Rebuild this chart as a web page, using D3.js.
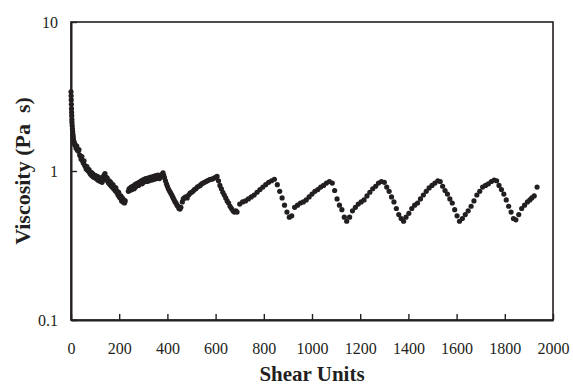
<!DOCTYPE html>
<html>
<head>
<meta charset="utf-8">
<script src="https://cdn.jsdelivr.net/npm/d3@7/dist/d3.min.js"></script>
<style>
  html, body { margin: 0; padding: 0; background: #fff; }
  svg { display: block; }
  text { font-family: "Liberation Serif", "Times New Roman", serif; fill: #231f20; }
</style>
</head>
<body>
<svg id="chart" width="573" height="386"></svg>
<script>
// ---- data ----
const xTickValues = [0, 200, 400, 600, 800, 1000, 1200, 1400, 1600, 1800, 2000];
const yTickValues = [0.1, 1, 10];
const yTickLabels = ["0.1", "1", "10"];
const xTitle = "Shear Units";
const yTitle = "Viscosity (Pa  s)";

const shear = [
  0, 0.5, 1, 1.5, 2, 2.5, 3, 3.5, 4, 5, 6, 7, 8, 9, 10, 12, 14, 16,
  18, 21, 24, 27, 30, 33, 36, 39, 42, 45, 48, 51, 54, 57, 60, 63, 66, 69, 72, 75, 78, 81, 84, 87, 90, 93, 96, 99,
  102, 105, 108, 111, 114, 117, 120, 123, 126, 129, 132, 135, 138, 141, 144, 147, 150, 153, 156, 159, 162, 165,
  168, 171, 174, 177, 180, 183, 186, 189, 192, 195, 198, 201, 204, 207, 210, 213, 216, 219, 222, 225,
  238, 241, 244, 247, 250, 253, 256, 259, 262, 265, 268, 271, 274, 277, 280, 283, 286, 289, 292, 295, 298,
  301, 304, 307, 310, 313, 316, 319, 322, 325, 328, 331, 334, 337, 340, 343, 346, 349, 352, 355, 358, 361,
  364, 367, 370, 373, 376, 379, 382, 385,
  388, 392, 396, 400, 404, 408, 412, 416, 420, 424, 428, 432, 436, 440, 444, 448, 452, 456,
  462, 466, 470, 476, 482, 488, 494, 500, 506, 512, 518, 524, 530, 536, 542, 548, 554, 560, 566, 572, 578,
  584, 590, 596, 602, 606,
  612, 618, 624, 630, 636, 642, 648, 654, 660, 666, 672, 678, 684, 689,
  700, 712, 724, 736, 748, 760, 772, 784, 796, 808, 820, 832, 844,
  856, 866, 876, 886, 896, 906, 916,
  928, 940, 952, 964, 976, 988, 1000, 1012, 1024, 1036, 1048, 1060, 1072, 1084,
  1094, 1104, 1114, 1124, 1134, 1144,
  1156, 1168, 1180, 1192, 1204, 1216, 1228, 1240, 1252, 1264, 1276, 1288, 1300,
  1310, 1320, 1330, 1340, 1350, 1360, 1370, 1380,
  1390, 1402, 1414, 1426, 1438, 1450, 1462, 1474, 1486, 1498, 1510, 1522, 1532,
  1542, 1552, 1562, 1572, 1582, 1592, 1602, 1612,
  1624, 1636, 1648, 1660, 1672, 1684, 1696, 1708, 1720, 1732, 1744, 1756, 1766,
  1776, 1786, 1796, 1806, 1816, 1826, 1836, 1846,
  1858, 1870, 1882, 1894, 1904, 1912, 1922, 1934
];

const viscosity = [
  3.40, 3.20, 3.00, 2.80, 2.62, 2.48, 2.35, 2.22, 2.12, 2.02, 1.92, 1.84, 1.76, 1.70, 1.64, 1.58, 1.54, 1.50,
  1.49, 1.42, 1.47, 1.38, 1.36, 1.39, 1.28, 1.26, 1.20, 1.25, 1.17, 1.13, 1.17, 1.09, 1.07, 1.03, 1.07, 1.01, 1.00, 1.02, 0.97, 0.95, 0.98, 0.93, 0.96, 0.91, 0.94, 0.90,
  0.93, 0.89, 0.92, 0.87, 0.91, 0.86, 0.90, 0.85, 0.89, 0.84, 0.88, 0.92, 0.94, 0.96, 0.91, 0.87, 0.90, 0.85, 0.83, 0.86, 0.81, 0.84,
  0.79, 0.78, 0.81, 0.76, 0.78, 0.74, 0.77, 0.72, 0.73, 0.69, 0.72, 0.67, 0.66, 0.68, 0.63, 0.66, 0.62, 0.64, 0.61, 0.63,
  0.73, 0.76, 0.74, 0.77, 0.78, 0.75, 0.79, 0.79, 0.76, 0.81, 0.78, 0.82, 0.80, 0.83, 0.80, 0.84, 0.82, 0.85, 0.86, 0.82, 0.87,
  0.84, 0.88, 0.85, 0.89, 0.87, 0.85, 0.89, 0.90, 0.86, 0.89, 0.91, 0.88, 0.87, 0.91, 0.92, 0.88, 0.90, 0.93, 0.89, 0.91, 0.94,
  0.92, 0.89, 0.92, 0.94, 0.93, 0.95, 0.97, 0.93,
  0.90, 0.86, 0.82, 0.79, 0.76, 0.74, 0.72, 0.70, 0.68, 0.66, 0.64, 0.62, 0.61, 0.59, 0.58, 0.56, 0.555, 0.57,
  0.62, 0.65, 0.66, 0.67, 0.66, 0.69, 0.71, 0.72, 0.73, 0.75, 0.76, 0.78, 0.79, 0.80, 0.82, 0.83, 0.84, 0.85, 0.86, 0.87, 0.88,
  0.88, 0.89, 0.90, 0.91, 0.92,
  0.86, 0.80, 0.76, 0.72, 0.69, 0.66, 0.63, 0.61, 0.58, 0.56, 0.54, 0.53, 0.54, 0.53,
  0.60, 0.62, 0.63, 0.65, 0.67, 0.69, 0.72, 0.75, 0.78, 0.81, 0.84, 0.86, 0.88,
  0.81, 0.73, 0.66, 0.59, 0.53, 0.49, 0.50,
  0.57, 0.59, 0.61, 0.62, 0.64, 0.67, 0.70, 0.73, 0.75, 0.78, 0.80, 0.83, 0.85, 0.83,
  0.74, 0.65, 0.59, 0.55, 0.49, 0.46,
  0.49, 0.54, 0.57, 0.60, 0.62, 0.64, 0.68, 0.72, 0.76, 0.79, 0.83, 0.85, 0.84,
  0.78, 0.73, 0.67, 0.62, 0.56, 0.51, 0.48, 0.46,
  0.49, 0.52, 0.56, 0.59, 0.61, 0.65, 0.69, 0.73, 0.77, 0.80, 0.83, 0.86, 0.85,
  0.79, 0.74, 0.70, 0.65, 0.61, 0.55, 0.50, 0.46,
  0.48, 0.51, 0.54, 0.58, 0.63, 0.69, 0.73, 0.78, 0.80, 0.82, 0.85, 0.87, 0.86,
  0.80, 0.75, 0.70, 0.64, 0.58, 0.53, 0.48, 0.47,
  0.51, 0.56, 0.59, 0.62, 0.64, 0.66, 0.68, 0.78
];

// ---- layout ----
const margin = { left: 71, right: 20, top: 22, bottom: 66 };
const W = 573, H = 386;
const pw = W - margin.left - margin.right;   // 482
const ph = H - margin.top - margin.bottom;   // 298
const ink = "#231f20";

const svg = d3.select("#chart");
const g = svg.append("g").attr("transform", `translate(${margin.left},${margin.top})`);

const x = d3.scaleLinear().domain([0, 2000]).range([0, pw]);
const y = d3.scaleLog().domain([0.1, 10]).range([ph, 0]);

// frame
g.append("rect")
  .attr("x", 0).attr("y", 0).attr("width", pw).attr("height", ph)
  .attr("fill", "none").attr("stroke", ink).attr("stroke-width", 1.6);

// x axis
const xAxis = g.append("g")
  .attr("transform", `translate(0,${ph})`)
  .call(d3.axisBottom(x).tickValues(xTickValues).tickSizeInner(-6).tickSizeOuter(0).tickPadding(23).tickFormat(d3.format("d")));
xAxis.select(".domain").attr("stroke", ink).attr("stroke-width", 2);
xAxis.selectAll(".tick line").attr("stroke", ink).attr("stroke-width", 1.4);
xAxis.selectAll(".tick text").attr("font-size", 16).attr("fill", ink)
  .style("font-family", '"Liberation Serif", "Times New Roman", serif');

// y axis
const yAxis = g.append("g")
  .call(d3.axisLeft(y).tickValues(yTickValues).tickSizeInner(-6).tickSizeOuter(0).tickPadding(13)
    .tickFormat((d, i) => yTickLabels[i]));
yAxis.select(".domain").attr("stroke", ink).attr("stroke-width", 2);
yAxis.selectAll(".tick line").attr("stroke", ink).attr("stroke-width", 1.4);
yAxis.selectAll(".tick text").attr("font-size", 16).attr("fill", ink)
  .style("font-family", '"Liberation Serif", "Times New Roman", serif');

// points
const pts = shear.map((s, i) => ({ s, v: viscosity[i] }));
g.append("g").selectAll("circle").data(pts).join("circle")
  .attr("cx", d => x(d.s)).attr("cy", d => y(d.v)).attr("r", 2.6)
  .attr("fill", ink);

// titles
svg.append("text")
  .attr("x", margin.left + pw / 2 + 0).attr("y", 381)
  .attr("text-anchor", "middle").attr("font-size", 21).attr("font-weight", "bold")
  .text(xTitle);

svg.append("text")
  .attr("transform", `translate(30,${margin.top + ph / 2}) rotate(-90)`)
  .attr("text-anchor", "middle").attr("font-size", 22).attr("font-weight", "bold")
  .style("white-space", "pre")
  .text(yTitle);
</script>
</body>
</html>
